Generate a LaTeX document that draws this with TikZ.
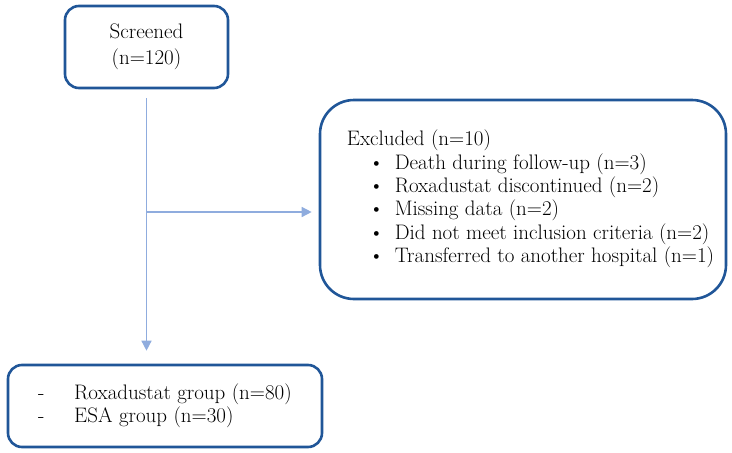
\documentclass[tikz,border=0pt]{standalone}
\usetikzlibrary{arrows.meta}
\definecolor{boxblue}{RGB}{32,86,152}
\definecolor{lineblue}{RGB}{143,172,222}
\begin{document}
\begin{tikzpicture}[x=1pt,y=-1pt,
    box/.style={draw=boxblue, line width=2.6pt, rounded corners=14pt, align=left,
                font=\fontsize{21}{23.3}\selectfont},
    flow/.style={draw=lineblue, line width=1.4pt, -{Triangle[length=10pt,width=10pt]}}]
    \useasboundingbox (0,0) rectangle (732,453);
    \node[box, align=center, minimum width=163pt, minimum height=82pt,
          font=\fontsize{21}{26}\selectfont] (scr) at (146.5,47) {Screened\\(n=120)};
    \node[box, rounded corners=34pt, minimum width=406pt, minimum height=199pt] (excl) at (523,199.5)
        {\begin{tabular}{@{\hspace{15pt}}l@{}}
         Excluded (n=10)\\
         \hspace*{22pt}\makebox[26pt][l]{\textbullet}Death during follow-up (n=3)\\
         \hspace*{22pt}\makebox[26pt][l]{\textbullet}Roxadustat discontinued (n=2)\\
         \hspace*{22pt}\makebox[26pt][l]{\textbullet}Missing data (n=2)\\
         \hspace*{22pt}\makebox[26pt][l]{\textbullet}Did not meet inclusion criteria (n=2)\\
         \hspace*{22pt}\makebox[26pt][l]{\textbullet}Transferred to another hospital (n=1)
         \end{tabular}};
    \node[box, minimum width=314pt, minimum height=82pt] (grp) at (165,406)
        {\makebox[36pt][l]{-}Roxadustat group (n=80)\\
         \makebox[36pt][l]{-}ESA group (n=30)};
    \coordinate (split) at (146.5,212);
    \draw[flow, shorten <=9pt, shorten >=13pt] (scr.south) -- (scr.south |- grp.north);
    \draw[flow, shorten >=7pt] (split) -- (split -| excl.west);
\end{tikzpicture}
\end{document}
